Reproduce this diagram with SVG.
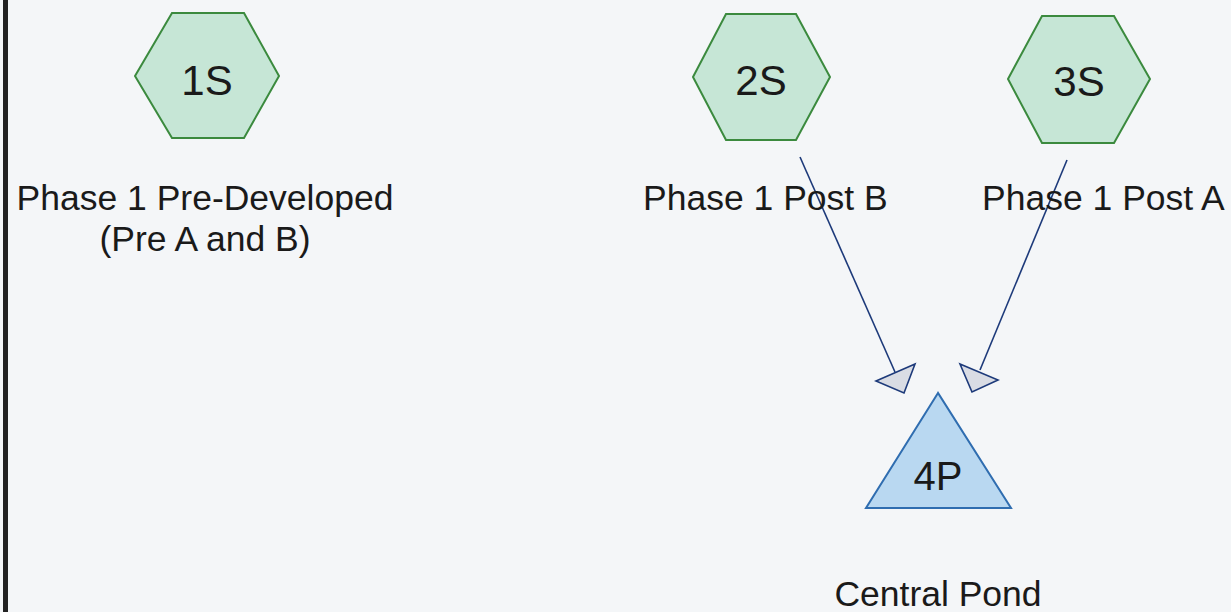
<svg xmlns="http://www.w3.org/2000/svg" width="1231" height="612" viewBox="0 0 1231 612">
<style>
.bg{fill:#f4f6f8}
.hex{fill:#c6e6d6;stroke:#3b8a3e;stroke-width:2}
.pond{fill:#b9d8f1;stroke:#2f6db0;stroke-width:2}
.id{font-family:"Liberation Sans",Arial,sans-serif;font-size:42px;fill:#1a1a1a;text-anchor:middle}
.lbl{font-family:"Liberation Sans",Arial,sans-serif;font-size:35.5px;fill:#1a1a1a}
.edge{stroke:#1d3a7a;stroke-width:1.6;fill:none}
.head{fill:#d9dce4;stroke:#1d3a7a;stroke-width:1.6;stroke-linejoin:miter}
</style>
<rect class="bg" x="0" y="0" width="1231" height="612"/>
<rect x="3" y="0" width="5" height="612" fill="#222"/>
<g id="connectors">
<line class="edge" x1="800" y1="157" x2="895" y2="372"/>
<polygon class="head" points="876,381 915,364 904,393"/>
<line class="edge" x1="1067" y1="160" x2="980" y2="370"/>
<polygon class="head" points="960,364 998,380 972,392"/>
</g>
<g id="node-1S">
<polygon class="hex" points="135,76 172,13 244,13 279,76 244,138 172,138"/>
<text class="id" x="207" y="95">1S</text>
<text class="lbl" x="205" y="210" text-anchor="middle">Phase 1 Pre-Developed</text>
<text class="lbl" x="205" y="251" text-anchor="middle">(Pre A and B)</text>
</g>
<g id="node-2S">
<polygon class="hex" points="693,77 726,14 796,14 830,77 796,140 726,140"/>
<text class="id" x="761" y="95">2S</text>
<text class="lbl" x="643" y="210">Phase 1 Post B</text>
</g>
<g id="node-3S">
<polygon class="hex" points="1008,79 1042,16 1114,16 1150,79 1114,143 1042,143"/>
<text class="id" x="1079" y="96">3S</text>
<text class="lbl" x="982" y="210">Phase 1 Post A</text>
</g>
<g id="node-4P">
<polygon class="pond" points="938,393 866,508 1011,508"/>
<text class="id" x="938" y="490" style="font-size:40px">4P</text>
<text class="lbl" x="938" y="606" text-anchor="middle">Central Pond</text>
</g>
</svg>
